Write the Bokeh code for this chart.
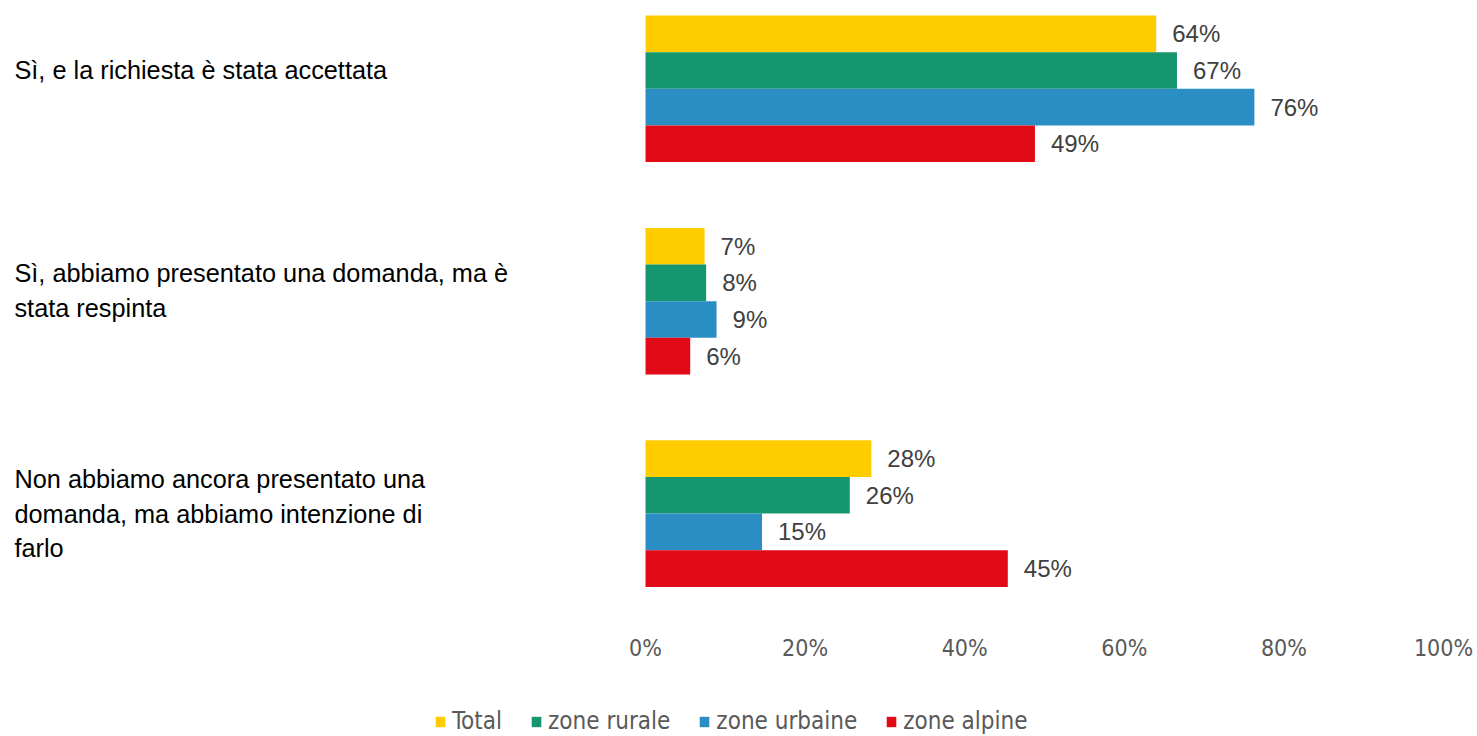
from bokeh.plotting import figure
from bokeh.models import ColumnDataSource, Range1d, FixedTicker, Legend, LegendItem
from bokeh.layouts import column
from bokeh.core.properties import value
from bokeh.embed import file_html
from bokeh.resources import INLINE

# ---- data ----
categories = [
    "Sì, e la richiesta è stata accettata",
    "Sì, abbiamo presentato una domanda, ma è\nstata respinta",
    "Non abbiamo ancora presentato una\ndomanda, ma abbiamo intenzione di\nfarlo",
]
series_names = ["Total", "zone rurale", "zone urbaine", "zone alpine"]
total = [64.0, 7.4, 28.3]
rurale = [66.6, 7.6, 25.6]
urbaine = [76.3, 8.9, 14.6]
alpine = [48.8, 5.6, 45.4]
x_ticks = [0, 20, 40, 60, 80, 100]
tick_labels = ["0%", "20%", "40%", "60%", "80%", "100%"]

# ---- style ----
colors = ["#FFCC00", "#16966E", "#2A8DC3", "#E20A17"]
NARROW = "DejaVu Sans Condensed"
REG = "Liberation Sans"

series_values = [total, rurale, urbaine, alpine]
n_cat = len(categories)
cat_pos = [n_cat - 1 - i for i in range(n_cat)]  # top to bottom
bar_h = 0.1726
offsets = [1.5 * bar_h, 0.5 * bar_h, -0.5 * bar_h, -1.5 * bar_h]

p = figure(
    width=1477, height=692,
    x_range=Range1d(-80.83, 104.26),
    y_range=Range1d(-0.5268, 2.4157),
    output_backend="svg", toolbar_location=None,
    y_axis_location=None,
    min_border_left=0, min_border_right=0, min_border_top=0, min_border_bottom=67,
)
p.outline_line_color = None
p.xgrid.grid_line_color = None
p.ygrid.grid_line_color = None
p.background_fill_color = "white"
p.border_fill_color = "white"

sources = []
for name, vals, col, off in zip(series_names, series_values, colors, offsets):
    src = ColumnDataSource(dict(
        x=vals,
        y=[c + off for c in cat_pos],
        label=[f"{round(v)}%" for v in vals],
    ))
    sources.append(src)
    p.hbar(y="y", right="x", left=0, height=bar_h, source=src,
           fill_color=col, line_color=None)
    p.text(x="x", y="y", text="label", source=src, x_offset=16,
           text_align="left", text_baseline="middle",
           text_font=value(REG), text_font_size="24px", text_color="#404040")

# category labels on the left
cat_src = ColumnDataSource(dict(
    x=[-79.08] * n_cat,
    y=cat_pos,
    text=categories,
    dy=[-19, -11, 0],
))
p.text(x="x", y="y", text="text", y_offset="dy", source=cat_src,
       text_align="left", text_baseline="middle", text_line_height=1.24,
       text_font=value(REG), text_font_size="25.3px", text_color="#000000")

# x axis
ax = p.xaxis[0]
ax.ticker = FixedTicker(ticks=x_ticks)
ax.major_label_overrides = {t: l for t, l in zip(x_ticks, tick_labels)}
ax.axis_line_color = None
ax.major_tick_line_color = None
ax.minor_tick_line_color = None
ax.major_label_standoff = 3
ax.major_label_text_font = NARROW
ax.major_label_text_font_size = "23px"
ax.major_label_text_color = "#595959"

# legend strip below the chart (its bars lie outside its visible range;
# only their legend swatches are shown)
leg = figure(
    width=1477, height=44,
    x_range=Range1d(0, 100), y_range=Range1d(50, 51),
    output_backend="svg", toolbar_location=None,
    x_axis_location=None, y_axis_location=None,
    min_border_left=0, min_border_right=0, min_border_top=0, min_border_bottom=0,
)
leg.outline_line_color = None
leg.xgrid.grid_line_color = None
leg.ygrid.grid_line_color = None
items = []
for name, col, src in zip(series_names, colors, sources):
    r = leg.hbar(y="y", right="x", left=0, height=bar_h, source=src,
                 fill_color=col, line_color=None)
    items.append(LegendItem(label=name, renderers=[r]))

legend = Legend(
    items=items, orientation="horizontal", location=(434, 1),
    label_text_font=NARROW, label_text_font_size="24px", label_text_color="#595959",
    glyph_width=12, glyph_height=13, label_standoff=6, spacing=28,
    padding=0, margin=0, border_line_color=None, background_fill_alpha=0,
)
leg.add_layout(legend, "center")

layout = column(p, leg, spacing=0)
open("out.html", "w").write(file_html(layout, INLINE))
